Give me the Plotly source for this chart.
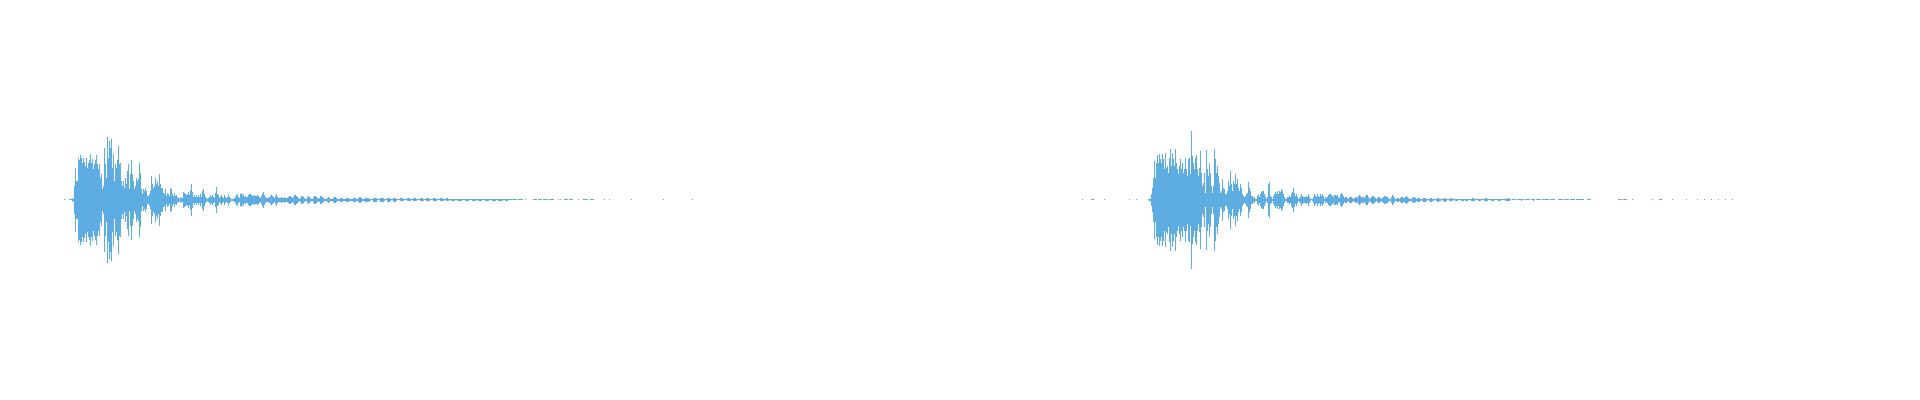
import numpy as np
import plotly.graph_objects as go
from plotly.subplots import make_subplots

# Peak envelope (half-height) per time bin.
# Channel A: first bin is at bin index 64 of its panel.
clip_a_onset = 64
clip_a_peak = [
    0.5, 0, 0, 0, 0, 0.5, 0.5, 0.5, 1, 2,
    14, 32, 19, 19, 42, 40, 45, 42, 37, 42,
    38, 34, 42, 32, 37, 40, 46, 37, 41, 31,
    36, 40, 45, 36, 31, 36, 22, 26, 11, 14,
    52, 36, 22, 63, 42, 59, 52, 61, 32, 46,
    19, 36, 32, 40, 54, 36, 37, 19, 14, 19,
    12, 22, 16, 29, 36, 11, 26, 40, 26, 19,
    11, 14, 22, 19, 21, 37, 27, 11, 6, 11,
    9, 12, 9, 4, 4, 6, 9, 24, 16, 12,
    14, 22, 16, 19, 14, 26, 16, 12, 12, 7,
    6, 11, 4, 7, 6, 4, 12, 11, 6, 4,
    7, 4, 5, 3, 2, 1, 3, 2, 2, 8,
    7, 6, 5, 6, 8, 5, 10, 16, 8, 3,
    5, 3, 5, 3, 5, 3, 6, 3, 9, 11,
    6, 3, 2, 1, 2, 3, 5, 3, 5, 3,
    2, 7, 13, 6, 5, 2, 3, 5, 3, 2,
    5, 3, 2, 3, 6, 3, 2, 1, 1, 1,
    2, 3, 5, 6, 3, 2, 6, 7, 5, 6,
    3, 4, 3, 3, 5, 6, 6, 5, 4, 4,
    5, 4, 4, 5, 4, 3, 2, 4, 6, 8,
    5, 3, 2, 2, 2, 3, 4, 5, 4, 3,
    2, 4, 6, 3, 2, 2, 2, 3, 2, 2,
    3, 2, 2, 2, 3, 4, 4, 3, 2, 3,
    5, 5, 4, 3, 2, 1, 2, 4, 4, 3,
    2, 1, 1, 3, 4, 3, 2, 1, 1, 3,
    4, 4, 3, 2, 1, 2, 4, 4, 3, 2,
    1, 1, 1, 2, 3, 2, 1, 1, 1, 2,
    3, 3, 2, 1, 1, 1, 2, 2, 2, 1,
    1, 1, 2, 2, 2, 1, 1, 1, 1, 2,
    2, 2, 1, 1, 2, 3, 3, 2, 1, 1,
    1, 2, 2, 2, 2, 1, 1, 0.5, 0.5, 2,
    2, 2, 2, 0.5, 0.5, 0.5, 2, 2, 2, 2,
    1, 0.5, 0.5, 2, 2, 2, 1, 0.5, 0.5, 2,
    2, 2, 1, 0.5, 0.5, 0.5, 1.5, 1.5, 1.5, 1,
    0.5, 0.5, 0.5, 1.5, 1.5, 1.5, 1, 0.5, 0.5, 1.5,
    1.5, 1.5, 1, 0.5, 0.5, 0.5, 1.5, 1.5, 1.5, 1,
    0.5, 0.5, 1.5, 1.5, 1.5, 1, 0.5, 0.5, 0.5, 1.5,
    1.5, 1.5, 1, 0.5, 0.5, 0.5, 1.5, 1.5, 1.5, 1,
    0.5, 0.5, 1.5, 1.5, 1, 0.5, 0.5, 1, 1, 1,
    1, 0.5, 0.5, 1, 1, 1, 1, 1, 0.5, 0.5,
    0.5, 1, 1, 1, 1, 0.5, 0.5, 0.5, 1, 1,
    1, 1, 0.5, 0.5, 1, 1, 1, 1, 0.5, 0.5,
    0.5, 1, 1, 1, 1, 0.5, 0.5, 0.5, 1, 1,
    1, 1, 0.5, 0.5, 1, 1, 1, 1, 1, 0.5,
    0.5, 1, 1, 1, 0.5, 0.5, 0.5, 0.5, 0.5, 0.5,
    0.5, 0.5, 0.5, 0, 0.5, 0.5, 0.5, 0.5, 0.5, 0,
    0, 0.5, 0, 0, 0, 0, 0, 0, 0, 0.5,
    0.5, 0.5, 0.5, 0, 0.5, 0.5, 0.5, 0.5, 0, 0.5,
    0.5, 0.5, 0.5, 0.5, 0, 0.5, 0.5, 0.5, 0.5, 0.5,
    0, 0, 0, 0, 0.5, 0, 0.5, 0, 0, 0,
    0.5, 0.5, 0.5, 0.5, 0, 0.5, 0.5, 0.5, 0.5, 0,
    0, 0, 0, 0, 0.5, 0, 0, 0, 0, 0.5,
    0.5, 0.5, 0.5, 0.5, 0, 0, 0.5, 0.5, 0.5, 0.5,
    0, 0, 0, 0, 0, 0, 0, 0, 0, 0,
    0.5, 0, 0, 0, 0, 0.5, 0, 0, 0, 0,
    0, 0, 0, 0, 0, 0, 0, 0, 0, 0,
    0, 0, 0, 0, 0, 0, 0, 0.5, 0, 0,
    0, 0, 0, 0, 0, 0, 0, 0, 0, 0,
    0, 0, 0, 0, 0, 0, 0, 0, 0, 0,
    0, 0, 0, 0, 0, 0, 0, 0, 0, 0.5,
    0, 0, 0, 0, 0, 0, 0, 0, 0, 0,
    0, 0, 0, 0, 0, 0, 0, 0, 0, 0,
    0, 0, 0, 0, 0, 0, 0, 0, 0.5,
]

# Channel B: first bin is at bin index 122 of its panel.
clip_b_onset = 122
clip_b_peak = [
    0.5, 0, 0, 0, 0, 0, 0, 0, 0, 0.5,
    0.5, 0.5, 0, 0, 0, 0, 0, 0, 0, 0,
    0, 0, 0.5, 0, 0, 0, 0, 0, 0, 0,
    0, 0, 0, 0, 0, 0, 0, 0, 0, 0,
    0, 0, 0, 0, 0, 0, 0, 0.5, 0, 0,
    0, 0, 0, 0, 0.5, 0, 0, 0, 0, 0,
    0, 0, 0, 0, 0, 0, 0.5, 1, 1, 6,
    12, 22, 39, 22, 37, 45, 37, 46, 41, 37,
    46, 41, 31, 47, 32, 34, 27, 42, 51, 34,
    47, 41, 34, 51, 37, 31, 26, 34, 41, 31,
    37, 27, 31, 42, 31, 24, 41, 42, 26, 69,
    44, 37, 31, 42, 45, 31, 24, 32, 49, 27,
    14, 17, 27, 7, 50, 31, 24, 37, 27, 14,
    7, 14, 51, 41, 27, 34, 24, 17, 7, 9,
    21, 12, 11, 6, 6, 9, 19, 14, 29, 16,
    9, 19, 16, 26, 16, 21, 12, 9, 16, 12,
    6, 4, 3, 4, 6, 7, 18, 12, 9, 4,
    4, 2, 3, 1, 1, 4, 6, 3, 6, 8,
    9, 9, 6, 3, 1, 3, 16, 18, 4, 3,
    1, 4, 6, 8, 6, 9, 6, 9, 8, 11,
    9, 6, 3, 1, 1, 3, 3, 4, 3, 6,
    8, 12, 7, 4, 6, 3, 1, 2, 3, 6,
    4, 3, 3, 3, 4, 3, 6, 3, 1, 0.5,
    1, 3, 6, 4, 3, 6, 4, 3, 6, 4,
    6, 4, 1, 3, 2, 3, 5, 6, 6, 5,
    4, 3, 5, 5, 4, 5, 3, 2, 5, 7,
    6, 4, 2, 3, 3, 2, 1, 3, 3, 3,
    2, 1, 2, 3, 3, 2, 4, 5, 4, 2,
    3, 3, 2, 4, 5, 5, 3, 1, 2, 3,
    4, 4, 3, 2, 1, 2, 3, 3, 2, 1,
    2, 3, 4, 4, 3, 3, 2, 1, 1, 3,
    5, 4, 2, 1, 1, 2, 2, 1, 2, 3,
    3, 2, 2, 3, 4, 3, 2, 1, 1, 1,
    2, 3, 3, 2, 1, 2, 2, 2, 1, 0.5,
    1, 2, 2, 2, 1, 0.5, 0.5, 1, 2, 2,
    1, 1, 0.5, 0.5, 1, 2, 2, 1, 1, 0.5,
    0.5, 1, 2, 2, 1, 0.5, 0.5, 1, 1.5, 1.5,
    1, 0.5, 0.5, 1, 1, 1, 0.5, 0.5, 0.5, 1,
    1, 1, 0.5, 1, 1, 1, 0.5, 0.5, 0.5, 1,
    1.5, 1.5, 1, 0.5, 0.5, 0.5, 1, 1, 1, 0.5,
    0.5, 0.5, 1, 1.5, 1.5, 1, 0.5, 0.5, 0.5, 1,
    1, 1, 0.5, 0.5, 0.5, 0.5, 1, 1, 1, 0.5,
    0.5, 0.5, 0.5, 1, 1, 1.5, 1.5, 1, 0.5, 0,
    0.5, 0.5, 0.5, 0.5, 0, 0.5, 0.5, 0.5, 0.5, 1,
    0.5, 0.5, 0, 0.5, 0.5, 0.5, 0.5, 0.5, 0, 0.5,
    0.5, 1, 0.5, 0, 0.5, 0.5, 0.5, 0.5, 0.5, 0,
    0.5, 0.5, 0.5, 0.5, 0.5, 0.5, 0.5, 0, 0.5, 0.5,
    0.5, 0.5, 0.5, 0, 0, 0, 0.5, 0.5, 0.5, 0.5,
    0.5, 0, 0.5, 0.5, 0.5, 0.5, 0.5, 0, 0.5, 0.5,
    0.5, 0.5, 0.5, 0, 0.5, 0.5, 0.5, 0.5, 0.5, 0.5,
    0.5, 0.5, 0, 0, 0, 0.5, 0.5, 0.5, 0.5, 0,
    0, 0, 0, 0, 0, 0, 0, 0, 0, 0,
    0, 0, 0, 0, 0, 0, 0, 0, 0, 0,
    0, 0, 0, 0, 0, 0, 0.5, 0.5, 0.5, 0.5,
    0, 0.5, 0.5, 0.5, 0.5, 0, 0, 0, 0, 0,
    0.5, 0, 0, 0, 0, 0, 0, 0, 0, 0,
    0, 0, 0, 0, 0, 0, 0, 0, 0, 0,
    0.5, 0, 0, 0, 0, 0, 0, 0.5, 0.5, 0.5,
    0, 0, 0, 0, 0, 0, 0, 0, 0, 0,
    0.5, 0, 0, 0, 0, 0, 0, 0, 0, 0,
    0, 0, 0, 0, 0.5, 0, 0, 0, 0, 0,
    0, 0, 0, 0, 0, 0.5, 0, 0, 0, 0,
    0, 0, 0.5, 0, 0, 0, 0, 0, 0, 0.5,
    0, 0, 0, 0, 0, 0, 0.5, 0, 0, 0,
    0, 0, 0, 0.5, 0, 0, 0, 0, 0, 0, 0.5,
]

WAVE_COLOR = "#5DADE2"

fig = make_subplots(rows=1, cols=2, horizontal_spacing=0)

for col, onset, peak in [(1, clip_a_onset, clip_a_peak), (2, clip_b_onset, clip_b_peak)]:
    amp = np.asarray(peak, dtype=float)
    t = onset + np.arange(len(amp))
    fig.add_trace(
        go.Bar(
            x=t,
            y=2 * amp,
            base=-amp,
            width=1,
            marker=dict(color=WAVE_COLOR, line=dict(width=0)),
            hoverinfo="skip",
            showlegend=False,
        ),
        row=1,
        col=col,
    )

# page has an 8px body margin; figure fills the remaining viewport
fig.update_xaxes(range=[7.5, 959.5], row=1, col=1)
fig.update_xaxes(range=[-0.5, 951.5], row=1, col=2)
fig.update_xaxes(visible=False, showgrid=False, zeroline=False)
fig.update_yaxes(range=[-192.5, 191.5], visible=False, showgrid=False, zeroline=False)
fig.update_layout(
    width=1904,
    height=384,
    margin=dict(l=0, r=0, t=0, b=0),
    paper_bgcolor="white",
    plot_bgcolor="white",
    bargap=0,
    barmode="overlay",
)

fig.write_html("out.html")
